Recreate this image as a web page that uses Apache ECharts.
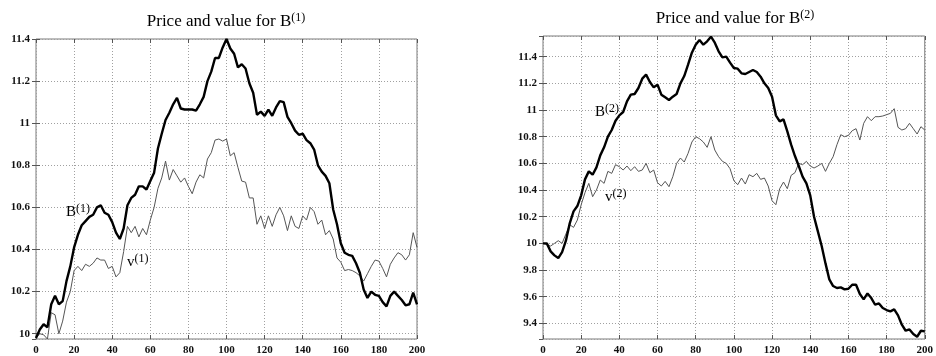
<!DOCTYPE html>
<html><head><meta charset="utf-8">
<script src="https://cdn.jsdelivr.net/npm/echarts@6/dist/echarts.min.js"></script>
<style>html,body{margin:0;padding:0;background:#fff}#c{width:936px;height:356px}</style>
</head><body><div id="c"></div>
<script>
// x positions of the samples (time steps)
const steps = [0,2,4,6,8,10,12,14,16,18,20,22,24,26,28,30,32,34,36,38,40,42,44,46,48,50,52,54,56,58,60,62,64,66,68,70,72,74,76,78,80,82,84,86,88,90,92,94,96,98,100,102,104,106,108,110,112,114,116,118,120,122,124,126,128,130,132,134,136,138,140,142,144,146,148,150,152,154,156,158,160,162,164,166,168,170,172,174,176,178,180,182,184,186,188,190,192,194,196,198,200];
const xTickLabels = [0,20,40,60,80,100,120,140,160,180,200];

// Left panel: price B(1) and value v(1)
const B1 = [9.98,10.02,10.045,10.03,10.14,10.18,10.14,10.155,10.25,10.32,10.41,10.47,10.515,10.535,10.555,10.565,10.6,10.61,10.575,10.565,10.53,10.48,10.45,10.5,10.61,10.645,10.66,10.7,10.7,10.685,10.725,10.765,10.88,10.95,11.015,11.05,11.09,11.12,11.07,11.065,11.065,11.065,11.06,11.09,11.125,11.2,11.245,11.31,11.31,11.36,11.4,11.355,11.33,11.265,11.28,11.26,11.19,11.145,11.04,11.055,11.035,11.065,11.035,11.075,11.105,11.1,11.03,11.0,10.965,10.945,10.95,10.92,10.905,10.875,10.8,10.77,10.75,10.715,10.59,10.52,10.43,10.385,10.375,10.37,10.335,10.29,10.21,10.17,10.2,10.185,10.18,10.15,10.13,10.18,10.2,10.18,10.16,10.135,10.14,10.195,10.14];
const V1 = [9.98,10.0,9.995,9.975,10.1,10.09,10.0,10.06,10.15,10.2,10.3,10.32,10.3,10.33,10.32,10.335,10.36,10.35,10.35,10.31,10.32,10.27,10.29,10.39,10.51,10.48,10.51,10.46,10.5,10.47,10.54,10.6,10.69,10.74,10.82,10.73,10.78,10.75,10.72,10.74,10.7,10.665,10.72,10.755,10.74,10.83,10.86,10.92,10.925,10.915,10.925,10.845,10.86,10.79,10.725,10.72,10.645,10.645,10.52,10.56,10.5,10.56,10.51,10.565,10.6,10.56,10.49,10.56,10.51,10.5,10.56,10.54,10.6,10.58,10.52,10.54,10.47,10.49,10.45,10.36,10.34,10.3,10.305,10.3,10.29,10.275,10.25,10.285,10.32,10.35,10.345,10.31,10.27,10.33,10.36,10.385,10.375,10.35,10.375,10.48,10.41];

// Right panel: price B(2) and value v(2)
const B2 = [10.0,10.0,9.94,9.91,9.89,9.935,10.02,10.15,10.24,10.28,10.36,10.48,10.54,10.515,10.57,10.66,10.72,10.8,10.85,10.92,10.96,10.985,11.065,11.115,11.12,11.165,11.235,11.265,11.21,11.17,11.19,11.115,11.095,11.075,11.1,11.12,11.2,11.255,11.34,11.43,11.49,11.525,11.49,11.515,11.55,11.505,11.44,11.395,11.4,11.355,11.315,11.31,11.275,11.27,11.285,11.3,11.285,11.25,11.2,11.165,11.1,10.96,10.915,10.93,10.84,10.74,10.655,10.58,10.5,10.45,10.36,10.2,10.09,9.98,9.85,9.73,9.68,9.665,9.67,9.655,9.66,9.69,9.69,9.62,9.58,9.625,9.59,9.54,9.55,9.515,9.5,9.49,9.505,9.46,9.39,9.345,9.355,9.32,9.3,9.345,9.34];
const V2 = [10.0,9.99,9.98,10.0,10.02,10.0,10.07,10.14,10.12,10.175,10.29,10.38,10.45,10.35,10.4,10.475,10.45,10.54,10.525,10.59,10.575,10.55,10.58,10.545,10.575,10.54,10.55,10.6,10.53,10.55,10.455,10.43,10.465,10.425,10.5,10.6,10.64,10.61,10.675,10.76,10.8,10.785,10.76,10.72,10.8,10.7,10.65,10.615,10.6,10.56,10.47,10.44,10.49,10.445,10.515,10.5,10.525,10.48,10.49,10.43,10.32,10.29,10.41,10.46,10.41,10.51,10.53,10.6,10.59,10.615,10.58,10.565,10.58,10.6,10.54,10.6,10.65,10.74,10.815,10.8,10.81,10.845,10.86,10.775,10.9,10.95,10.92,10.95,10.95,10.955,10.965,10.975,11.01,10.87,10.85,10.86,10.9,10.86,10.82,10.875,10.85];

const titleMain = 'Price and value for B';
const superLabels = ['(1)', '(2)'];
const priceName = 'B';
const valueName = 'v';

const FONT = 'Liberation Serif';
const chart = echarts.init(document.getElementById('c'), null, {renderer: 'canvas'});

function pairs(ys) { return steps.map((x, i) => [x, ys[i]]); }

const grids = [
  {left: 36, right: 519, top: 39, bottom: 17},
  {left: 543, right: 9, top: 36, bottom: 17}
];
const yRanges = [[9.975, 11.4, 7], [9.283, 11.555, 11]];

const labelStyle = {fontFamily: FONT, fontSize: 11, fontWeight: 'bold', color: '#111'};
const gridLine = {show: true, lineStyle: {color: '#a0a0a0', type: [1, 2], width: 1}};
const tick = {show: true, inside: true, length: 4, lineStyle: {color: '#555'}};

const xAxes = [], yAxes = [];
[0, 1].forEach(g => {
  xAxes.push({gridIndex: g, type: 'value', min: 0, max: 200, interval: 20, position: 'bottom',
    axisLine: {show: false}, axisTick: tick, splitLine: gridLine,
    axisLabel: Object.assign({margin: 6}, labelStyle)});
  xAxes.push({gridIndex: g, type: 'value', min: 0, max: 200, interval: 20, position: 'top',
    axisLine: {show: false}, axisTick: tick, splitLine: {show: false}, axisLabel: {show: false}});
  const [mn, mx, sn] = yRanges[g];
  yAxes.push({gridIndex: g, type: 'value', min: mn, max: mx, splitNumber: sn, position: 'left',
    axisLine: {show: false}, axisTick: tick, splitLine: gridLine,
    axisLabel: Object.assign({margin: 6, showMinLabel: false, showMaxLabel: g === 0}, labelStyle)});
  yAxes.push({gridIndex: g, type: 'value', min: mn, max: mx, splitNumber: sn, position: 'right',
    axisLine: {show: false}, axisTick: tick, splitLine: {show: false}, axisLabel: {show: false}});
});

function lineSeries(data, g, thick) {
  return {type: 'line', xAxisIndex: g * 2, yAxisIndex: g * 2, data: pairs(data),
    showSymbol: false, symbol: 'none', animation: false, z: thick ? 3 : 2,
    lineStyle: thick ? {color: '#000', width: 2.4} : {color: '#555', width: 1}};
}

function supText(x, y, main, sup, mainSize, supSize, align) {
  return {type: 'text', x: x, y: y, z: 10, style: {
    text: '{a|' + main + '}{s|' + sup + '}', align: align, verticalAlign: 'middle', fill: '#000',
    fontFamily: FONT, fontSize: mainSize,
    rich: {
      a: {fontFamily: FONT, fontSize: mainSize, lineHeight: mainSize + 4, fill: '#000'},
      s: {fontFamily: FONT, fontSize: supSize, lineHeight: supSize - 1, verticalAlign: 'top', fill: '#000'}
    }}};
}

chart.setOption({
  backgroundColor: '#fff',
  animation: false,
  grid: grids.map(g => Object.assign({show: true, borderColor: '#7a7a7a', borderWidth: 1, backgroundColor: 'transparent'}, g)),
  xAxis: xAxes,
  yAxis: yAxes,
  series: [lineSeries(V1, 0, false), lineSeries(B1, 0, true), lineSeries(V2, 1, false), lineSeries(B2, 1, true)],
  graphic: [
    supText(226, 22, titleMain, superLabels[0], 17, 12, 'center'),
    supText(735, 19, titleMain, superLabels[1], 17, 12, 'center'),
    supText(66, 212, priceName, superLabels[0], 15, 12, 'left'),
    supText(127, 262, valueName, superLabels[0], 15, 12, 'left'),
    supText(595, 112, priceName, superLabels[1], 15, 12, 'left'),
    supText(605, 197, valueName, superLabels[1], 15, 12, 'left')
  ]
});
</script></body></html>
